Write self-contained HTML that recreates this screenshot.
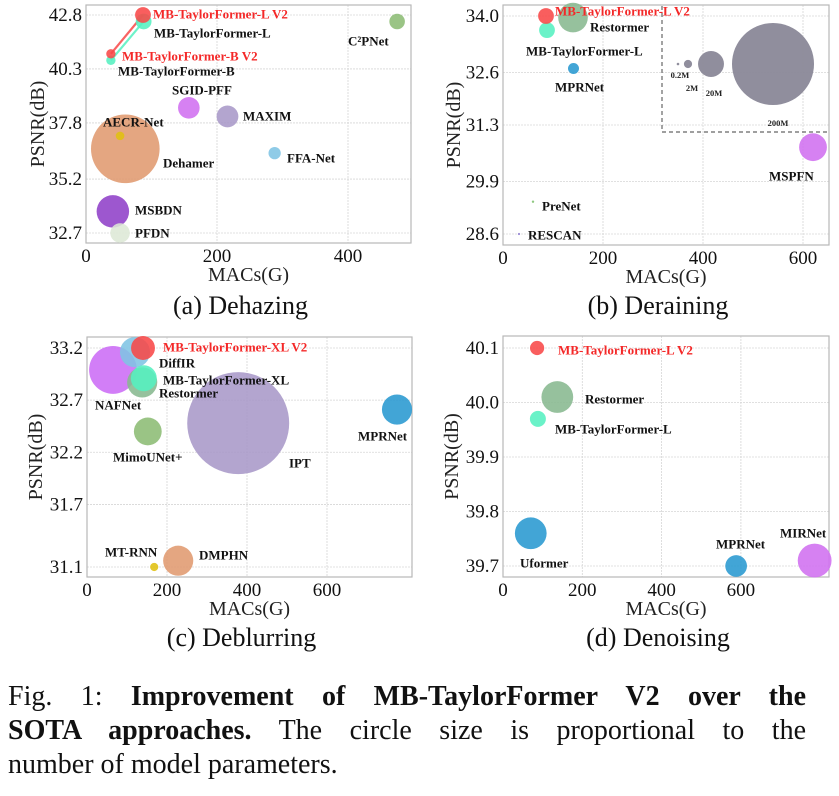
<!DOCTYPE html>
<html><head><meta charset="utf-8">
<style>
html,body{margin:0;padding:0;background:#fff;}
body{width:839px;height:796px;overflow:hidden;position:relative;font-family:"Liberation Serif",serif;}
svg{position:absolute;left:0;top:0;}
.cap{position:absolute;left:8px;top:680px;width:798px;font-size:28px;line-height:34px;color:#111;}
.cap div{text-align:justify;text-align-last:justify;white-space:nowrap;}
.cap div.last{text-align-last:left;}
</style></head>
<body>
<svg id="fig" width="839" height="796"></svg>
<div class="cap">
<div>Fig. 1: <b>Improvement of MB-TaylorFormer V2 over the</b></div>
<div><b>SOTA approaches.</b> The circle size is proportional to the</div>
<div class="last">number of model parameters.</div>
</div>
<script>
// ---------- Panel (a) Dehazing ----------
const aNames = ["Dehamer","MB-TaylorFormer-L","MB-TaylorFormer-L V2","MB-TaylorFormer-B","MB-TaylorFormer-B V2","C²PNet","SGID-PFF","MAXIM","AECR-Net","FFA-Net","MSBDN","PFDN"];
const aMacs = [60,88,87,38,38,475,157,216,52,288,41,52];
const aPsnr = [36.6,42.5,42.8,40.7,41.0,42.5,38.5,38.1,37.2,36.4,33.7,32.7];
const aParams = [140,7.4,7.4,2.6,2.6,7.2,13.9,14.1,2.2,4.5,31.4,11.3];
const aYTicks = [42.8,40.3,37.8,35.2,32.7];
const aXTicks = [0,200,400];
// ---------- Panel (b) Deraining ----------
const bNames = ["Restormer","MB-TaylorFormer-L","MB-TaylorFormer-L V2","MPRNet","MSPFN","PreNet","RESCAN"];
const bMacs = [140,88,86,141,620,60,32];
const bPsnr = [33.96,33.65,34.0,32.7,30.75,29.4,28.6];
const bParams = [26.1,7.4,7.4,3.6,23,0.17,0.15];
const bYTicks = [34.0,32.6,31.3,29.9,28.6];
const bXTicks = [0,200,400,600];
const bLegendSizes = [0.2,2,20,200];
const bLegendLabels = ["0.2M","2M","20M","200M"];
// ---------- Panel (c) Deblurring ----------
const cNames = ["IPT","NAFNet","DiffIR","Restormer","MB-TaylorFormer-XL","MB-TaylorFormer-XL V2","MimoUNet+","MPRNet","MT-RNN","DMPHN"];
const cMacs = [378,65,120,138,142,140,152,775,168,228];
const cPsnr = [32.48,32.99,33.16,32.87,32.91,33.2,32.4,32.61,31.1,31.16];
const cParams = [309,68,27,27,20,17,23,27,2,27];
const cYTicks = [33.2,32.7,32.2,31.7,31.1];
const cXTicks = [0,200,400,600];
// ---------- Panel (d) Denoising ----------
const dNames = ["Restormer","MB-TaylorFormer-L","MB-TaylorFormer-L V2","Uformer","MPRNet","MIRNet"];
const dMacs = [137,88,86,70,588,786];
const dPsnr = [40.01,39.97,40.1,39.76,39.70,39.71];
const dParams = [30,7.6,6,30,14,34];
const dYTicks = [40.1,40.0,39.9,39.8,39.7];
const dXTicks = [0,200,400,600];

const NS="http://www.w3.org/2000/svg";
const svg=document.getElementById('fig');
function mk(tag,attrs,parent){const e=document.createElementNS(NS,tag);for(const k in attrs)e.setAttribute(k,attrs[k]);(parent||svg).appendChild(e);return e;}
function rad(p){return 2.9*Math.sqrt(p);}

const colorMap={"Dehamer":"#e09a70","MB-TaylorFormer-L":"#55f0c0","MB-TaylorFormer-L V2":"#f84848","MB-TaylorFormer-B":"#55f0c0","MB-TaylorFormer-B V2":"#f84848","C²PNet":"#8cbc74","SGID-PFF":"#d070f0","MAXIM":"#a898c8","AECR-Net":"#e0c010","FFA-Net":"#80c4e4","MSBDN":"#9040c8","PFDN":"#dde8d6","Restormer":"#88b890","MPRNet":"#2898d0","MSPFN":"#d070f0","PreNet":"#80c070","RESCAN":"#9080d0","IPT":"#a898c8","NAFNet":"#cc6cf6","DiffIR":"#80c4e4","MB-TaylorFormer-XL":"#55f0c0","MB-TaylorFormer-XL V2":"#f84848","MimoUNet+":"#8cbc74","MT-RNN":"#e0c010","DMPHN":"#e09a70","Uformer":"#2898d0","MIRNet":"#d070f0"};

function panel(cfg){
  const g=mk('g',{});
  
  
  const {x0,x1,y0,y1,xmin,xmax,ymin,ymax,ymin_px,ymax_px}=cfg;
  const X=v=>x0+(v-xmin)*(cfg.xpx/200);
  const Y=v=>ymax_px+(ymax-v)*(ymin_px-ymax_px)/(ymax-ymin);
  cfg.xt.forEach(t=>{const l=mk('line',{x1:X(t),x2:X(t),y1:y0,y2:y1,stroke:'#d6d6d6','stroke-width':0.8,'stroke-dasharray':'2,1'},g);});
  cfg.yt.forEach(t=>{const l=mk('line',{x1:x0,x2:x1,y1:Y(t),y2:Y(t),stroke:'#d6d6d6','stroke-width':0.8,'stroke-dasharray':'2,1'},g);});
  const box=mk('rect',{x:x0,y:y0,width:x1-x0,height:y1-y0,fill:'none',stroke:'#b8b8b8','stroke-width':1.2},g);
  
  cfg.yt.forEach(t=>{const e=mk('text',{x:x0-4,y:Y(t)+6,'text-anchor':'end','font-size':19,fill:'#111'},g);e.textContent=t.toFixed(1);});
  cfg.xt.forEach(t=>{const e=mk('text',{x:X(t),y:y1+19,'text-anchor':'middle','font-size':19,fill:'#111'},g);e.textContent=t;});
  const xt=mk('text',{x:(x0+x1)/2,y:y1+38,'text-anchor':'middle','font-size':20,fill:'#222'},g);xt.textContent='MACs(G)';
  
  const yc=(y0+y1)/2;
  const yt=mk('text',{x:cfg.ytx,y:yc,'text-anchor':'middle','font-size':20,fill:'#222',transform:`rotate(-90 ${cfg.ytx} ${yc})`},g);yt.textContent='PSNR(dB)';
  
  const st=mk('text',{x:(x0+x1)/2-8,y:cfg.suby,'text-anchor':'middle','font-size':26,fill:'#111'},g);st.textContent=cfg.sub;
  
  (cfg.links||[]).forEach(([a,b,col])=>{const ia=cfg.names.indexOf(a),ib=cfg.names.indexOf(b);
    const l=mk('line',{x1:X(cfg.macs[ia]),y1:Y(cfg.psnr[ia]),x2:X(cfg.macs[ib]),y2:Y(cfg.psnr[ib]),stroke:col,'stroke-width':2.2,opacity:0.85},g);
    });
  cfg.names.forEach((n,i)=>{
    const c=mk('circle',{cx:X(cfg.macs[i]),cy:Y(cfg.psnr[i]),r:rad(cfg.params[i]),fill:colorMap[n],opacity:0.88},g);
    
    
  });
  cfg.names.forEach((n,i)=>{
    const p=cfg.lab[n];
    const e=mk('text',{x:p[0],y:p[1]+4.5,'font-size':13,'font-weight':'bold',fill:/V2$/.test(n)?'#f42828':'#111'},g);
    e.textContent=n;
    
    
  });
  return {g,X,Y};
}

panel({id:'panel-dehazing',x0:86,x1:411,y0:5,y1:243,xmin:0,xmax:500,xpx:131,ymin:32.7,ymax:42.8,ymin_px:233,ymax_px:15,
  xt:aXTicks,yt:aYTicks,ytx:44,suby:314,sub:'(a) Dehazing',names:aNames,macs:aMacs,psnr:aPsnr,params:aParams,
  links:[["MB-TaylorFormer-B","MB-TaylorFormer-L","#55f0c0"],["MB-TaylorFormer-B V2","MB-TaylorFormer-L V2","#f84848"]],
  lab:{"MB-TaylorFormer-L V2":[153,14],"MB-TaylorFormer-L":[154,33],"C²PNet":[348,41],"MB-TaylorFormer-B V2":[122,56],"MB-TaylorFormer-B":[118,71],
  "SGID-PFF":[172,90],"MAXIM":[243,116],"AECR-Net":[103,122],"Dehamer":[163,163],"FFA-Net":[287,158],"MSBDN":[135,210],"PFDN":[135,233]}});

panel({id:'panel-deraining',x0:503,x1:829,y0:5,y1:245,xmin:0,xmax:650,xpx:100,ymin:28.6,ymax:34.0,ymin_px:234,ymax_px:16,
  xt:bXTicks,yt:bYTicks,ytx:460,suby:314,sub:'(b) Deraining',names:bNames,macs:bMacs,psnr:bPsnr,params:bParams,
  lab:{"MB-TaylorFormer-L V2":[555,11],"Restormer":[590,27],"MB-TaylorFormer-L":[526,51],"MPRNet":[555,87],"MSPFN":[769,176],"PreNet":[542,206],"RESCAN":[528,235]}});
const lg=mk('g',{});


mk('polyline',{points:'662,6 662,132 829,132',fill:'none',stroke:'#666','stroke-width':1.2,'stroke-dasharray':'4,3'},lg);
const legX=[678,688,711,773],legLX=[680,692,714,778],legLY=[75,88,93,123];
bLegendSizes.forEach((s,i)=>{
  const c=mk('circle',{cx:legX[i],cy:64,r:Math.max(1.2,rad(s)),fill:'#8a8898',opacity:0.95},lg);
  
  
  const t=mk('text',{x:legLX[i],y:legLY[i]+3,'text-anchor':'middle','font-size':8.5,'font-weight':'bold',fill:'#222'},lg);
  t.textContent=bLegendLabels[i];
  
  
});

panel({id:'panel-deblurring',x0:87,x1:412,y0:337,y1:577,xmin:0,xmax:800,xpx:80,ymin:31.1,ymax:33.2,ymin_px:567,ymax_px:348,
  xt:cXTicks,yt:cYTicks,ytx:42,suby:646,sub:'(c) Deblurring',names:cNames,macs:cMacs,psnr:cPsnr,params:cParams,
  lab:{"MB-TaylorFormer-XL V2":[163,347],"DiffIR":[159,363],"MB-TaylorFormer-XL":[163,380],"Restormer":[159,393],"NAFNet":[95,405],"MimoUNet+":[113,457],
  "IPT":[289,463],"MPRNet":[358,436],"MT-RNN":[105,552],"DMPHN":[199,555]}});

panel({id:'panel-denoising',x0:503,x1:829,y0:336,y1:577,xmin:0,xmax:800,xpx:79.3,ymin:39.7,ymax:40.1,ymin_px:566,ymax_px:348,
  xt:dXTicks,yt:dYTicks,ytx:458,suby:646,sub:'(d) Denoising',names:dNames,macs:dMacs,psnr:dPsnr,params:dParams,
  lab:{"MB-TaylorFormer-L V2":[558,350],"Restormer":[585,399],"MB-TaylorFormer-L":[555,429],"Uformer":[520,563],"MPRNet":[716,544],"MIRNet":[780,533]}});
</script>
</body></html>
